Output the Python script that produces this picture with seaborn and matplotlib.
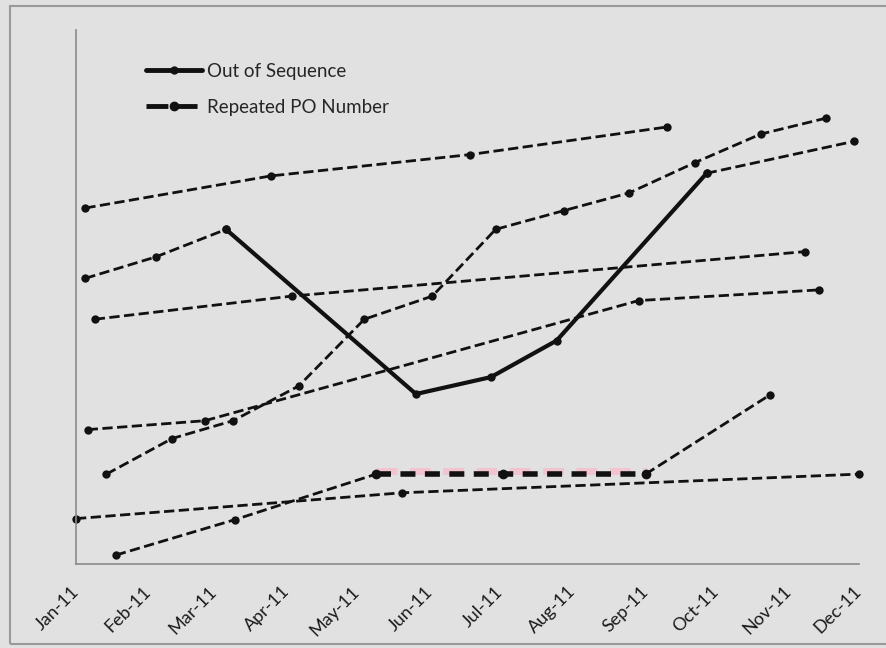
import pandas as pd
import matplotlib
matplotlib.use("Agg")
import matplotlib.pyplot as plt
import matplotlib.dates as mdates
from matplotlib.lines import Line2D
from matplotlib.patches import Rectangle
import seaborn as sns

# thin dashed background series (dates, values)
a_dates = ["2011-01-05", "2011-03-25", "2011-06-18", "2011-09-10"]
a_vals = [4.00, 4.36, 4.60, 4.91]

b_pre_dates = ["2011-01-05", "2011-02-04", "2011-03-06"]
b_pre_vals = [3.21, 3.45, 3.76]
b_post_dates = ["2011-09-27", "2011-11-29"]
b_post_vals = [4.39, 4.75]

c_dates = ["2011-01-09", "2011-04-03", "2011-11-08"]
c_vals = [2.75, 3.01, 3.51]

d_dates = ["2011-01-14", "2011-02-11", "2011-03-09", "2011-04-06", "2011-05-04", "2011-06-02",
           "2011-06-29", "2011-07-28", "2011-08-25", "2011-09-22", "2011-10-20", "2011-11-17"]
d_vals = [1.01, 1.41, 1.61, 2.00, 2.75, 3.01, 3.76, 3.97, 4.17, 4.51, 4.83, 5.01]

e_dates = ["2011-01-06", "2011-02-25", "2011-08-29", "2011-11-14"]
e_vals = [1.51, 1.61, 2.96, 3.08]

f_dates = ["2011-01-01", "2011-05-20", "2011-12-01"]
f_vals = [0.51, 0.80, 1.01]

g_pre_dates = ["2011-01-18", "2011-03-10", "2011-05-09"]
g_pre_vals = [0.10, 0.50, 1.01]
g_post_dates = ["2011-09-01", "2011-10-24"]
g_post_vals = [1.01, 1.90]

# highlighted segments
oos_dates = ["2011-03-06", "2011-05-26", "2011-06-27", "2011-07-25", "2011-09-27"]
oos_vals = [3.76, 1.91, 2.10, 2.51, 4.39]

rpo_dates = ["2011-05-09", "2011-07-02", "2011-09-01"]
rpo_vals = [1.01, 1.01, 1.01]

month_ticks = pd.date_range("2011-01-01", "2011-12-01", freq="MS")

bg = "#e1e1e1"
sns.set_style("white")
plt.rcParams["font.family"] = ["Lato", "DejaVu Sans"]

fig = plt.figure(figsize=(8.87, 6.48), dpi=100, facecolor=bg)
ax = fig.add_axes([76 / 887, 1 - 564 / 648, (859 - 76) / 887, (564 - 30) / 648])
ax.set_facecolor(bg)

thin = [(a_dates, a_vals), (b_pre_dates, b_pre_vals), (b_post_dates, b_post_vals),
        (c_dates, c_vals), (d_dates, d_vals), (e_dates, e_vals), (f_dates, f_vals),
        (g_pre_dates, g_pre_vals), (g_post_dates, g_post_vals)]
for dts, vals in thin:
    sns.lineplot(x=pd.to_datetime(dts), y=vals, ax=ax, color="#111111", linestyle="--",
                 linewidth=2.0, dashes=False, marker="o", markersize=6,
                 markeredgewidth=0, clip_on=False)

# faint pink scan halo under the repeated segment
ax.plot(pd.to_datetime(rpo_dates), [v + 0.035 for v in rpo_vals], color="#f2c4d0",
        linewidth=5, dashes=(3, 1.8), zorder=2)
sns.lineplot(x=pd.to_datetime(rpo_dates), y=rpo_vals, ax=ax, color="#111111",
             linewidth=4, marker="o", markersize=7, markeredgewidth=0, zorder=3)
ax.lines[-1].set_dashes((2.7, 1.7))
sns.lineplot(x=pd.to_datetime(oos_dates), y=oos_vals, ax=ax, color="#111111",
             linewidth=3, marker="o", markersize=6, markeredgewidth=0, zorder=3)

ax.set_xlim(month_ticks[0], month_ticks[-1])
ax.set_ylim(0, 6)
ax.set_xticks(month_ticks)
ax.xaxis.set_major_formatter(mdates.DateFormatter("%b-%y"))
ax.set_yticks(range(7))
ax.set_yticklabels([])
ax.set_xlabel("")
ax.set_ylabel("")

for lbl in ax.get_xticklabels():
    lbl.set_rotation(45)
    lbl.set_ha("right")
    lbl.set_va("center")
    lbl.set_rotation_mode("anchor")
ax.tick_params(axis="x", length=5, color="#8a8a8a", pad=13, labelsize=13, labelcolor="#1a1a1a")
ax.tick_params(axis="y", length=5, color="#8a8a8a")
for side in ["top", "right"]:
    ax.spines[side].set_visible(False)
for side in ["left", "bottom"]:
    ax.spines[side].set_color("#8a8a8a")
    ax.spines[side].set_linewidth(1.2)

handles = [
    Line2D([], [], color="#111111", linewidth=3.5, marker="o", markersize=5),
    Line2D([], [], color="#111111", linewidth=3.5, marker="o", markersize=6, dashes=(4.5, 1.5)),
]
ax.legend(handles, ["Out of Sequence", "Repeated PO Number"], loc="upper left",
          bbox_to_anchor=(0.068, 0.97), frameon=False, fontsize=13.5, handlelength=3.0,
          handletextpad=0.25, labelspacing=1.0)

# outer frame of the scanned chart
fig.patches.append(Rectangle((10 / 887, 1 - 644 / 648), 1.2, (644 - 6) / 648,
                             transform=fig.transFigure, fill=False,
                             edgecolor="#9a9a9a", linewidth=1.5, zorder=0))

fig.savefig("out.png", dpi=100, facecolor=bg)
